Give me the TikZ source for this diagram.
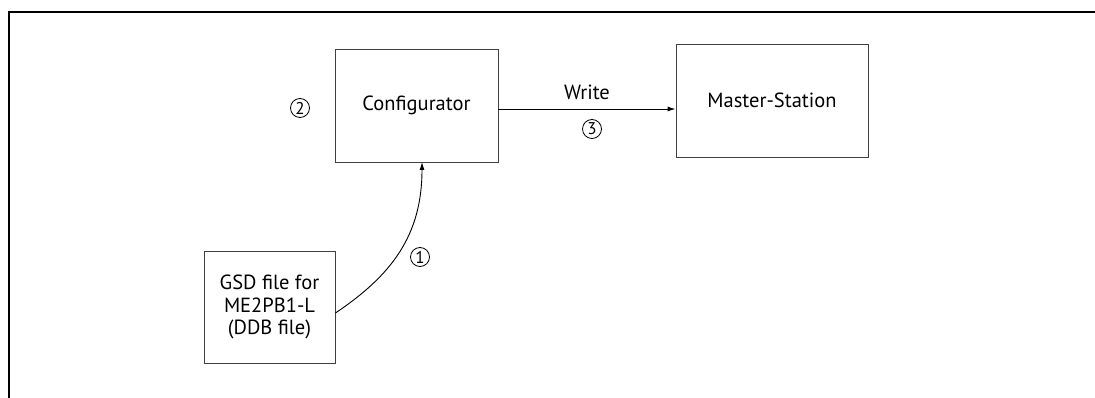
\documentclass[tikz,border=0pt]{standalone}
\usepackage{fontspec}
\setmainfont{PT Sans}
\usetikzlibrary{arrows.meta}
\begin{document}
\begin{tikzpicture}[x=1pt,y=-1pt,
  box/.style={draw=black!75,line width=0.9pt,inner sep=0pt,align=center,font=\fontsize{20.5}{22.5}\selectfont},
  lbl/.style={inner sep=0pt,font=\fontsize{20.5}{22.5}\selectfont},
  num/.style={circle,draw,line width=0.8pt,inner sep=0pt,minimum size=19pt,font=\fontsize{17}{18}\selectfont},
  arr/.style={line width=0.9pt,-{Latex[length=8pt,width=5pt]}}]
\useasboundingbox (0,0) rectangle (1095,398);
\draw[line width=2pt] (9,398) -- (9,12) -- (1095,12);
\node[box,minimum width=163pt,minimum height=113pt] (conf) at (416.5,105.5) {Configurator};
\node[box,minimum width=192pt,minimum height=113pt] (ms) at (772,100.5) {Master-Station};
\node[box,minimum width=131pt,minimum height=112pt] (gsd) at (269.5,307) {GSD file for\\ME2PB1-L\\(DDB file)};
\coordinate (cs) at (gsd.east |- 0,313);
\coordinate (ce) at (422,162);
\draw[arr] (conf.east |- 0,109) -- (ms.west |- 0,109);
\node[lbl] (write) at (587,92) {Write};
\node[num] (n3) at (592,129) {3};
\node[num] (n2) at (300,108) {2};
\node[num] (n1) at (420,257) {1};
\draw[arr] (cs) .. controls (392,275) and (422,235) .. (ce);
\end{tikzpicture}
\end{document}
